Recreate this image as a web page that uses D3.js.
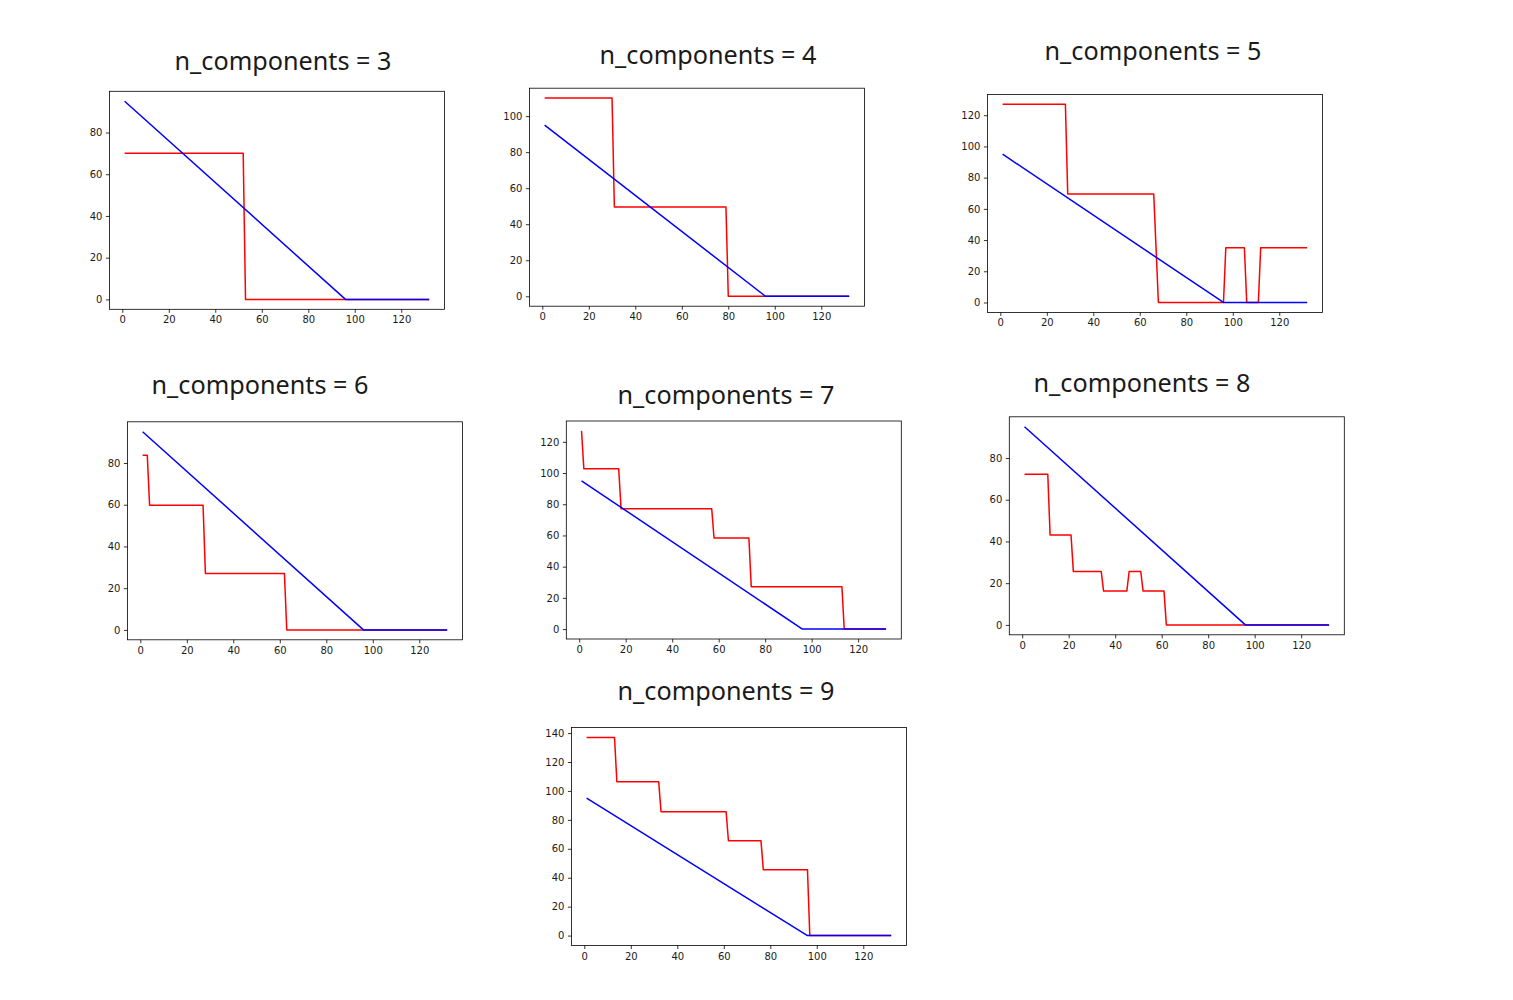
<!DOCTYPE html>
<html>
<head>
<meta charset="utf-8">
<script src="https://cdn.jsdelivr.net/npm/d3@7"></script>
<style>
  body { margin: 0; background: #fff; }
  svg { display: block; }
</style>
</head>
<body>
<svg id="chart" width="1513" height="1000"></svg>
<script>
// ---------- data ----------
const titles = ["n_components = 3", "n_components = 4", "n_components = 5",
                "n_components = 6", "n_components = 7", "n_components = 8", "n_components = 9"];

// blue reference line (breakpoints [x, y])
const blueLine = [[1, 95], [96, 0], [132, 0]];

// red step curves (breakpoints [x, y])
const redN3 = [[1, 70], [52, 70], [53, 0], [132, 0]];
const redN4 = [[1, 110], [30, 110], [31, 49.5], [79, 49.5], [80, 0], [132, 0]];
const redN5 = [[1, 127], [28, 127], [29, 69.5], [66, 69.5], [68, 0], [96, 0], [97, 35],
               [105, 35], [106, 0], [111, 0], [112, 35], [132, 35]];
const redN6 = [[1, 83.7], [3, 83.7], [4, 59.7], [27, 59.7], [28, 27], [62, 27], [63, 0], [132, 0]];
const redN7 = [[1, 127], [2, 102.7], [17, 102.7], [18, 77.1], [57, 77.1], [58, 58.4], [73, 58.4],
               [74, 27.2], [113, 27.2], [114, 0], [132, 0]];
const redN8 = [[1, 72.2], [11, 72.2], [12, 43.1], [21, 43.1], [22, 25.6], [34, 25.6], [35, 16.2],
               [45, 16.2], [46, 25.6], [51, 25.6], [52, 16.2], [61, 16.2], [62, 0], [132, 0]];
const redN9 = [[1, 137], [13, 137], [14, 106.4], [32, 106.4], [33, 85.6], [61, 85.6], [62, 65.5],
               [76, 65.5], [77, 45.5], [96, 45.5], [97, 0], [132, 0]];
const redSeries = [redN3, redN4, redN5, redN6, redN7, redN8, redN9];

const xTicks = [0, 20, 40, 60, 80, 100, 120];
const yTicks95 = [0, 20, 40, 60, 80];
const yTicks110 = [0, 20, 40, 60, 80, 100];
const yTicks127 = [0, 20, 40, 60, 80, 100, 120];
const yTicks137 = [0, 20, 40, 60, 80, 100, 120, 140];
const yTickSets = [yTicks95, yTicks110, yTicks127, yTicks95, yTicks127, yTicks95, yTicks137];

// ---------- layout (positions only) ----------
const panelW = 335, panelH = 218;
const layout = [
  { x: 109.4, y: 91.3, tx: 283, ty: 70 },
  { x: 529.4, y: 88.2, tx: 708, ty: 64 },
  { x: 987.4, y: 94.4, tx: 1153, ty: 60 },
  { x: 127.4, y: 421.8, tx: 260, ty: 394 },
  { x: 566.3, y: 421.0, tx: 726, ty: 404 },
  { x: 1009.3, y: 416.8, tx: 1142, ty: 392 },
  { x: 571.4, y: 727.5, tx: 726, ty: 700 }
];

const svg = d3.select("#chart");

titles.forEach((title, i) => {
  const L = layout[i];
  const red = redSeries[i];
  const allY = red.map(d => d[1]).concat(blueLine.map(d => d[1]));
  const allX = red.map(d => d[0]).concat(blueLine.map(d => d[0]));
  const [x0, x1] = d3.extent(allX), [y0, y1] = d3.extent(allY);
  const px = (x1 - x0) * 0.05, py = (y1 - y0) * 0.05;

  const x = d3.scaleLinear().domain([x0 - px, x1 + px]).range([0, panelW]);
  const y = d3.scaleLinear().domain([y0 - py, y1 + py]).range([panelH, 0]);

  const g = svg.append("g").attr("transform", `translate(${L.x},${L.y})`);

  const line = d3.line().x(d => x(d[0])).y(d => y(d[1]));

  g.append("path").datum(red).attr("d", line)
    .attr("fill", "none").attr("stroke", "#ff0000").attr("stroke-width", 1.5)
    .attr("stroke-linejoin", "round");
  g.append("path").datum(blueLine).attr("d", line)
    .attr("fill", "none").attr("stroke", "#0000ff").attr("stroke-width", 1.5)
    .attr("stroke-linejoin", "round");

  const xAxis = d3.axisBottom(x).tickValues(xTicks).tickSize(3.5).tickPadding(3.5).tickFormat(d3.format("d"));
  const yAxis = d3.axisLeft(y).tickValues(yTickSets[i]).tickSize(3.5).tickPadding(3.5).tickFormat(d3.format("d"));

  const gx = g.append("g").attr("transform", `translate(0,${panelH})`).call(xAxis);
  const gy = g.append("g").call(yAxis);
  [gx, gy].forEach(a => {
    a.select(".domain").remove();
    a.selectAll("line").attr("stroke", "#000").attr("stroke-width", 0.8);
    a.selectAll("text").attr("fill", "#1a1a1a")
      .style("font-family", "DejaVu Sans").style("font-size", "10px");
  });

  g.append("rect").attr("x", 0).attr("y", 0).attr("width", panelW).attr("height", panelH)
    .attr("fill", "none").attr("stroke", "#000").attr("stroke-width", 0.8);

  const t = svg.append("text")
    .attr("x", L.tx).attr("y", L.ty)
    .attr("text-anchor", "middle")
    .attr("fill", "#1a1a1a")
    .style("font-family", "'Noto Sans', 'Open Sans', sans-serif")
    .style("font-size", "24px")
    .text(title);
  const len = t.node().getComputedTextLength();
  if (len > 0) t.style("font-size", (24 * 217 / len).toFixed(2) + "px");
});
</script>
</body>
</html>
